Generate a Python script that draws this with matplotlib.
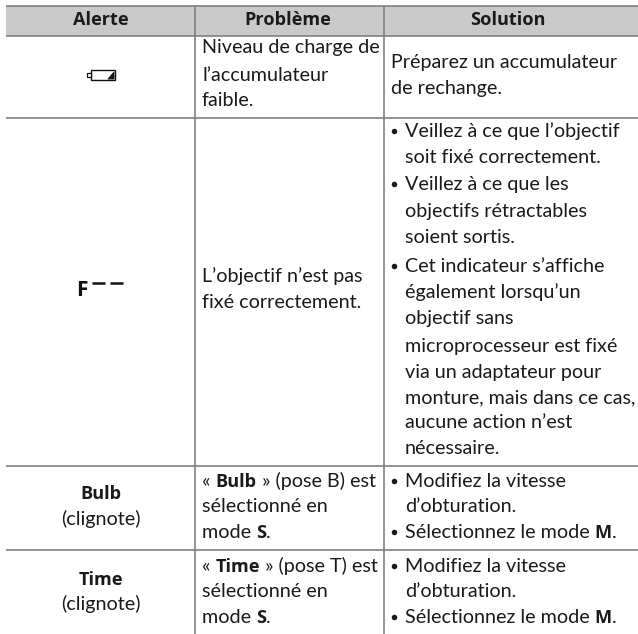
import matplotlib
matplotlib.use('Agg')
import matplotlib.pyplot as plt
from matplotlib.patches import Rectangle, Polygon

plt.rcParams['font.family'] = ['Lato', 'DejaVu Sans']

FS = 14.2
BOLD_FS = 13.1
HEAD_FS = 13.1
BOLD_FAMILY = 'Open Sans'
TEXT = '#1a1a1a'
LINE = '#808080'

headers = ['Alerte', 'Problème', 'Solution']
header_x = [100.5, 288, 508]

# *...* marks the bold runs
alert_lines = [('*Bulb*', 499), ('(clignote)', 525), ('*Time*', 585), ('(clignote)', 610)]

problem_lines = [
    ('Niveau de charge de', 53), ('l’accumulateur', 81), ('faible.', 106),
    ('L’objectif n’est pas', 282), ('fixé correctement.', 308),
    ('« *Bulb* » (pose B) est', 487), ('sélectionné en', 512), ('mode *S*.', 538),
    ('« *Time* » (pose T) est', 572), ('sélectionné en', 597), ('mode *S*.', 623),
]

solution_lines = [
    (0, 'Préparez un accumulateur', 68), (0, 'de rechange.', 94),
    (1, 'Veillez à ce que l’objectif', 137), (2, 'soit fixé correctement.', 163),
    (1, 'Veillez à ce que les', 190), (2, 'objectifs rétractables', 217), (2, 'soient sortis.', 243),
    (1, 'Cet indicateur s’affiche', 272), (2, 'également lorsqu’un', 298), (2, 'objectif sans', 324),
    (2, 'microprocesseur est fixé', 352), (2, 'via un adaptateur pour', 378),
    (2, 'monture, mais dans ce cas,', 403), (2, 'aucune action n’est', 428), (2, 'nécessaire.', 454),
    (1, 'Modifiez la vitesse', 487), (2, 'd’obturation.', 512), (1, 'Sélectionnez le mode *M*.', 538),
    (1, 'Modifiez la vitesse', 572), (2, 'd’obturation.', 597), (1, 'Sélectionnez le mode *M*.', 623),
]

row_lines = [6, 36, 118, 466, 550]
col_lines = [195.3, 384.3]

fig = plt.figure(figsize=(6.38, 6.34), dpi=100)
ax = fig.add_axes([0, 0, 1, 1])
ax.set_xlim(0, 638)
ax.set_ylim(634, 0)
ax.axis('off')


def runs(s):
    return [(p, i % 2 == 1) for i, p in enumerate(s.split('*')) if p]


def style(bold, bold_fs):
    if bold:
        return dict(fontsize=bold_fs, fontweight='bold', family=[BOLD_FAMILY, 'DejaVu Sans'])
    return dict(fontsize=FS)


def width(s, bold, bold_fs):
    t = ax.text(0, 0, s.replace(' ', '\u00a0'), **style(bold, bold_fs))
    w = t.get_window_extent(fig.canvas.get_renderer()).width
    t.remove()
    return w


def put(x, y, s, center=False, bold_fs=BOLD_FS):
    parts = runs(s)
    if center:
        x -= sum(width(p, b, bold_fs) for p, b in parts) / 2
    for p, b in parts:
        ax.text(x, y, p.replace(' ', '\u00a0'), color=TEXT, va='baseline', **style(b, bold_fs))
        x += width(p, b, bold_fs)


ax.add_patch(Rectangle((6, 6), 632, 30, fc='#c9c9c9', ec='none', zorder=0))
ax.hlines(row_lines, 6, 638, color=LINE, lw=1.2, zorder=1)
ax.vlines(col_lines, 6, 634, color=LINE, lw=1.2, zorder=1)

for h, x in zip(headers, header_x):
    put(x, 25, '*' + h + '*', center=True, bold_fs=HEAD_FS)

for s, y in alert_lines:
    put(101, y, s, center=True)

for s, y in problem_lines:
    put(202, y, s)

for kind, s, y in solution_lines:
    if kind == 0:
        put(391, y, s)
    else:
        if kind == 1:
            ax.plot([393.5], [y - 6.5], 'o', ms=4, color=TEXT, mec='none')
        put(405, y, s)

# battery icon
ax.add_patch(Rectangle((90.5, 69.5), 24, 10.5, fc='white', ec='#111111', lw=1.0))
ax.add_patch(Rectangle((87, 72.5), 3.5, 4.5, fc='white', ec='#111111', lw=0.9))
ax.add_patch(Polygon([(108, 79), (114, 72), (114, 79)], fc='#111111', ec='#111111', lw=0.6))

# F-- symbol
ax.text(76, 296, 'F', fontsize=15, fontweight='bold', color='#111111', va='baseline', family=BOLD_FAMILY)
ax.plot([92, 105], [282.7, 282.7], color='#111111', lw=1.8, solid_capstyle='butt')
ax.plot([110, 123], [282.7, 282.7], color='#111111', lw=1.8, solid_capstyle='butt')

fig.savefig('out.png', dpi=100)
